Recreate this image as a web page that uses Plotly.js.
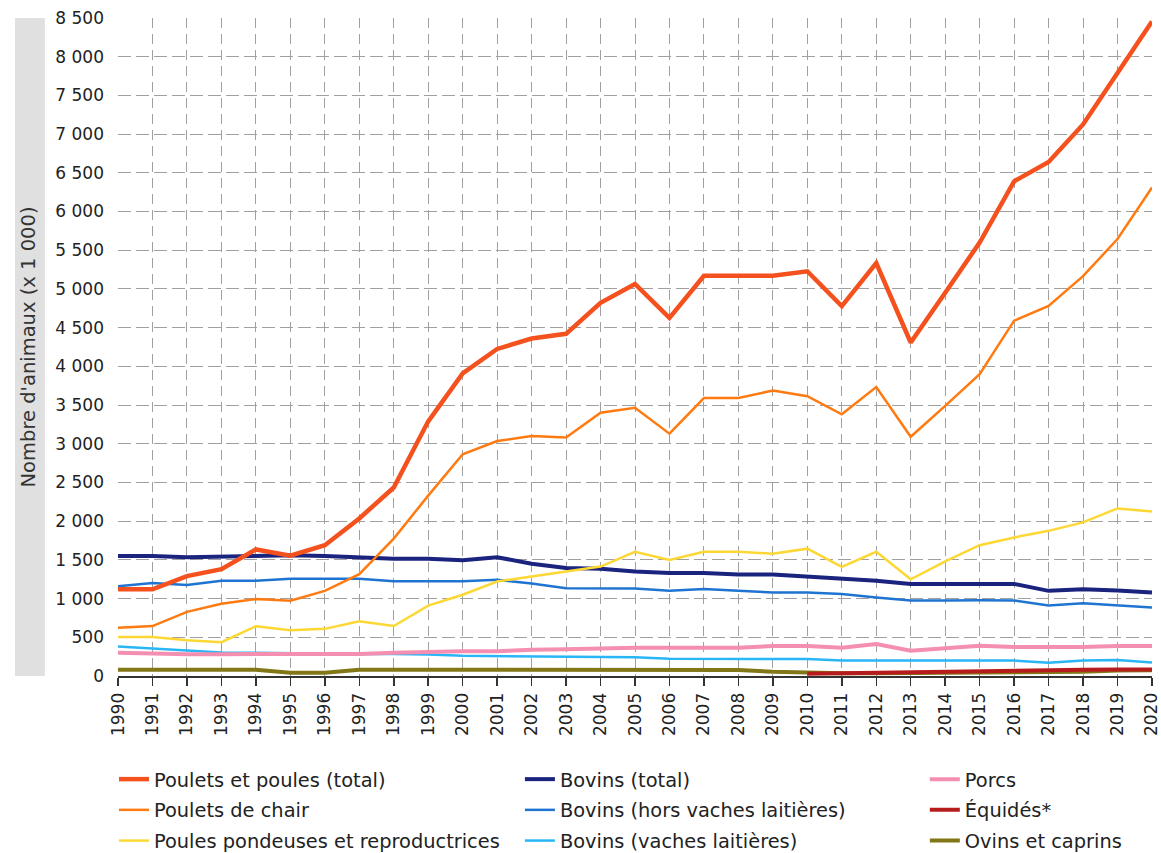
<!DOCTYPE html>
<html>
<head>
<meta charset="utf-8">
<script src="https://cdn.plot.ly/plotly-3.0.1.min.js"></script>
<style>html,body{margin:0;padding:0;background:#fff;}#chart{width:1161px;height:853px;}</style>
</head>
<body>
<div id="chart"></div>
<script>
const years = [1990,1991,1992,1993,1994,1995,1996,1997,1998,1999,2000,2001,2002,2003,2004,2005,2006,2007,2008,2009,2010,2011,2012,2013,2014,2015,2016,2017,2018,2019,2020];

const pouletsTotal = [1120,1120,1290,1380,1635,1555,1690,2035,2435,3290,3910,4225,4360,4420,4820,5065,4625,5170,5170,5170,5228,4778,5335,4308,4950,5600,6390,6640,7125,7785,8455];
const pouletsChair = [622,645,828,934,995,973,1100,1315,1775,2330,2865,3035,3100,3080,3400,3465,3130,3590,3590,3688,3615,3380,3732,3090,3490,3900,4590,4780,5165,5645,6310];
const poulesPondeuses = [505,505,463,437,643,590,609,707,645,909,1050,1221,1286,1350,1414,1605,1500,1605,1605,1580,1645,1410,1605,1250,1480,1690,1790,1875,1985,2165,2125];
const bovinsTotal = [1550,1550,1535,1545,1560,1560,1550,1535,1515,1515,1495,1535,1450,1395,1385,1350,1330,1330,1310,1310,1285,1265,1230,1190,1190,1190,1190,1100,1120,1105,1080];
const bovinsHorsVL = [1160,1200,1175,1230,1230,1255,1255,1255,1225,1225,1225,1243,1195,1135,1135,1130,1100,1125,1100,1080,1080,1060,1015,975,975,980,975,910,940,910,885];
const bovinsVL = [380,350,328,305,300,293,283,283,283,278,262,257,255,244,244,241,222,222,222,220,220,200,200,200,200,207,200,170,200,207,175];
const porcs = [300,285,282,282,282,282,282,285,300,315,320,320,340,345,360,365,365,365,365,388,388,365,413,327,355,392,375,375,375,388,388];
const equides = [null,null,null,null,null,null,null,null,null,null,null,null,null,null,null,null,null,null,null,null,30,35,40,45,55,60,62,62,80,85,85];
const ovinsCaprins = [80,80,80,80,80,42,42,80,80,80,80,80,80,80,80,80,80,80,78,55,40,35,35,38,40,40,42,45,55,70,75];

const yTickVals = [0,500,1000,1500,2000,2500,3000,3500,4000,4500,5000,5500,6000,6500,7000,7500,8000,8500];

function tr(y, name, color, width, legend, rank) {
  return {x: years, y: y, name: name, type: 'scatter', mode: 'lines',
          line: {color: color, width: width}, legend: legend, legendrank: rank,
          legendgroup: name, connectgaps: false, hoverinfo: 'x+y+name'};
}

const data = [
  tr(ovinsCaprins, "Ovins et caprins", '#827717', 4, 'legend3', 3),
  tr(equides, "Équidés*", '#b71c1c', 4, 'legend3', 2),
  tr(bovinsVL, "Bovins (vaches laitières)", '#29b6f6', 2.5, 'legend2', 3),
  tr(porcs, "Porcs", '#f48fb1', 4, 'legend3', 1),
  tr(bovinsHorsVL, "Bovins (hors vaches laitières)", '#1e74d0', 2.5, 'legend2', 2),
  tr(bovinsTotal, "Bovins (total)", '#1a237e', 4, 'legend2', 1),
  tr(poulesPondeuses, "Poules pondeuses et reproductrices", '#fdd835', 2.5, 'legend', 3),
  tr(pouletsChair, "Poulets de chair", '#ff7b12', 2.5, 'legend', 2),
  tr(pouletsTotal, "Poulets et poules (total)", '#f4511e', 4.5, 'legend', 1)
];

const legFont = {family: 'DejaVu Sans, sans-serif', size: 19.4, color: '#222'};
function leg(x) {
  return {orientation: 'v', x: x, xanchor: 'left', y: -0.1277, yanchor: 'top',
          traceorder: 'grouped', tracegroupgap: 2.5, font: legFont, bgcolor: 'rgba(0,0,0,0)'};
}

const layout = {
  width: 1161, height: 853,
  margin: {l: 118, r: 9, t: 18, b: 177, autoexpand: false},
  paper_bgcolor: '#ffffff', plot_bgcolor: '#ffffff',
  separators: ', ',
  font: {family: 'DejaVu Sans, sans-serif', size: 17, color: '#222'},
  showlegend: true,
  legend: leg(-0.0039),
  legend2: leg(0.3887),
  legend3: leg(0.7803),
  xaxis: {
    range: [1989.999, 2020.001], tickvals: years, tickangle: -90,
    ticklabeloverflow: 'allow',
    showgrid: true, gridcolor: '#a0a0a0', griddash: '10px,6px', gridwidth: 1,
    showline: true, linecolor: '#333', linewidth: 2,
    ticks: 'outside', ticklen: 8, tickcolor: '#333', tickwidth: 1.5,
    zeroline: false, tickfont: {size: 17, color: '#222'}, automargin: false
  },
  yaxis: {
    range: [0, 8500], tickvals: yTickVals,
    tickformat: ',d', separatethousands: true,
    showgrid: true, gridcolor: '#a0a0a0', griddash: '13px,5px', gridwidth: 1,
    zeroline: true, zerolinecolor: '#c8c8c8', zerolinewidth: 2,
    showline: false, ticks: '', ticklabelstandoff: 13,
    tickfont: {size: 17, color: '#222'},
    title: {text: "Nombre d'animaux (x 1 000)", standoff: 14, font: {size: 19.5, color: '#333'}},
    automargin: false
  },
  shapes: [{type: 'rect', xref: 'paper', yref: 'paper', x0: -0.0996, x1: -0.0707, y0: 0, y1: 1,
            fillcolor: '#e0e0e0', line: {width: 0}, layer: 'below'}]
};

Plotly.newPlot('chart', data, layout, {displayModeBar: false, staticPlot: true});
</script>
</body>
</html>
